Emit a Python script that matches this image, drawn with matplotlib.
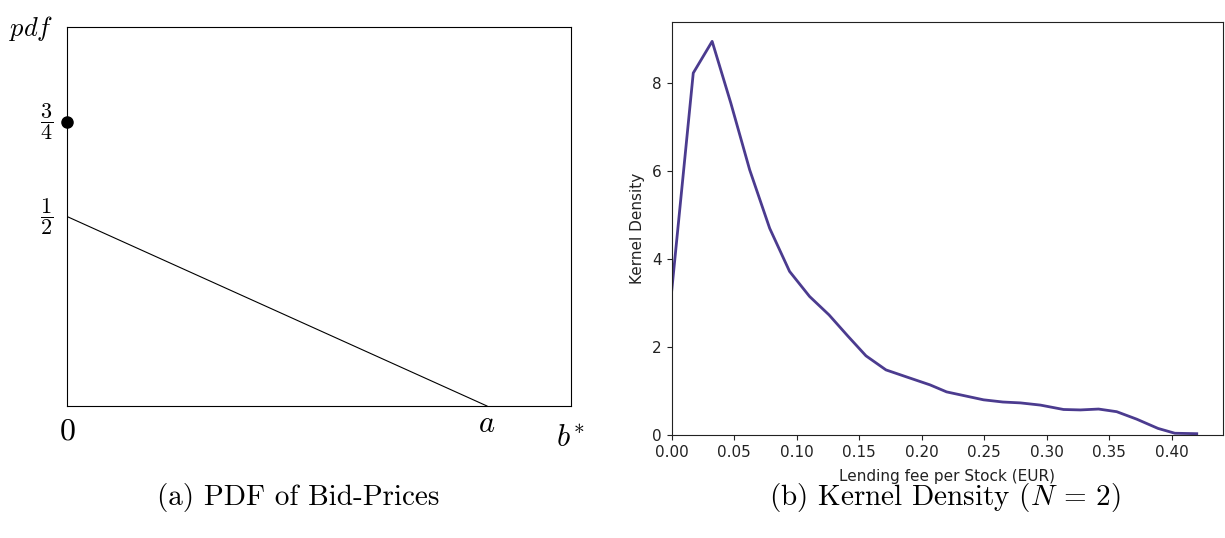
import matplotlib
matplotlib.use("Agg")
import matplotlib.pyplot as plt
import numpy as np

plt.rcParams['mathtext.fontset'] = 'cm'

# panel (a): theoretical pdf of bid prices
pdf_x = [0.0, 1.0]      # from 0 to a
pdf_y = [0.5, 0.0]
atom_y = 0.75           # mass point at b* = 0

# panel (b): kernel density of lending fees
fee = [0.0, 0.0174, 0.0325, 0.0474, 0.0625, 0.0785, 0.0944, 0.1104, 0.126,
       0.141, 0.1555, 0.1715, 0.188, 0.2067, 0.220, 0.2495, 0.265, 0.279,
       0.295, 0.3135, 0.327, 0.3415, 0.356, 0.372, 0.389, 0.4025, 0.42]
density = [3.23, 8.23, 8.95, 7.55, 6.03, 4.70, 3.72, 3.15, 2.73,
           2.25, 1.80, 1.48, 1.32, 1.14, 0.98, 0.80, 0.75, 0.73,
           0.68, 0.58, 0.57, 0.59, 0.53, 0.36, 0.15, 0.04, 0.03]
fee_ticks = [0.0, 0.05, 0.10, 0.15, 0.20, 0.25, 0.30, 0.35, 0.40]

W, H = 1225, 538
fig = plt.figure(figsize=(W / 100, H / 100), dpi=100)

# ---- left panel
ax1 = fig.add_axes([67 / W, 1 - 406 / H, 504 / W, 379 / H])
ax1.plot(pdf_x, pdf_y, color='black', lw=0.8)
ax1.plot([0], [atom_y], 'o', color='black', ms=8, clip_on=False, zorder=5)
ax1.set_xlim(0, 1.2)
ax1.set_ylim(0, 1)
ax1.set_xticks([])
ax1.set_yticks([])
for s in ax1.spines.values():
    s.set_linewidth(0.8)

ax1.text(-0.086, 0.995, '$pdf$', fontsize=19, ha='center', va='center')
ax1.text(-0.048, 0.75, r'$\dfrac{3}{4}$', fontsize=16, ha='center', va='center')
ax1.text(-0.048, 0.5, r'$\dfrac{1}{2}$', fontsize=16, ha='center', va='center')
ax1.text(0.0, -0.089, '$0$', fontsize=23, ha='center', va='baseline')
ax1.text(1.0, -0.068, '$a$', fontsize=22, ha='center', va='baseline')
ax1.text(1.165, -0.108, '$b^{\\!*}$', fontsize=22, ha='left', va='baseline')

# ---- right panel
txt = '#222222'
ax2 = fig.add_axes([671.5 / W, 1 - 435 / H, (1223 - 671.5) / W, 413 / H])
ax2.plot(fee, density, color='#4b3b8f', lw=2)
ax2.set_xlim(0, 0.441)
ax2.set_ylim(0, 9.39)
ax2.set_xticks(fee_ticks)
ax2.set_xticklabels(['%.2f' % t for t in fee_ticks])
ax2.set_yticks([0, 2, 4, 6, 8])
ax2.tick_params(labelsize=11, colors=txt)
ax2.set_xlabel('Lending fee per Stock (EUR)', fontsize=11, color=txt, labelpad=6.5)
ax2.set_ylabel('Kernel Density', fontsize=11, color=txt, labelpad=5)
for s in ax2.spines.values():
    s.set_color(txt)

# captions
fig.text(298 / W, 1 - 498 / H, '(a) PDF of Bid-Prices', fontsize=21,
         family='cmr10', ha='center', va='center')
fig.text(945 / W, 1 - 498 / H, r'(b) Kernel Density ($N$ = 2)', fontsize=21,
         family='cmr10', ha='center', va='center')

fig.savefig('out.png', dpi=100)
